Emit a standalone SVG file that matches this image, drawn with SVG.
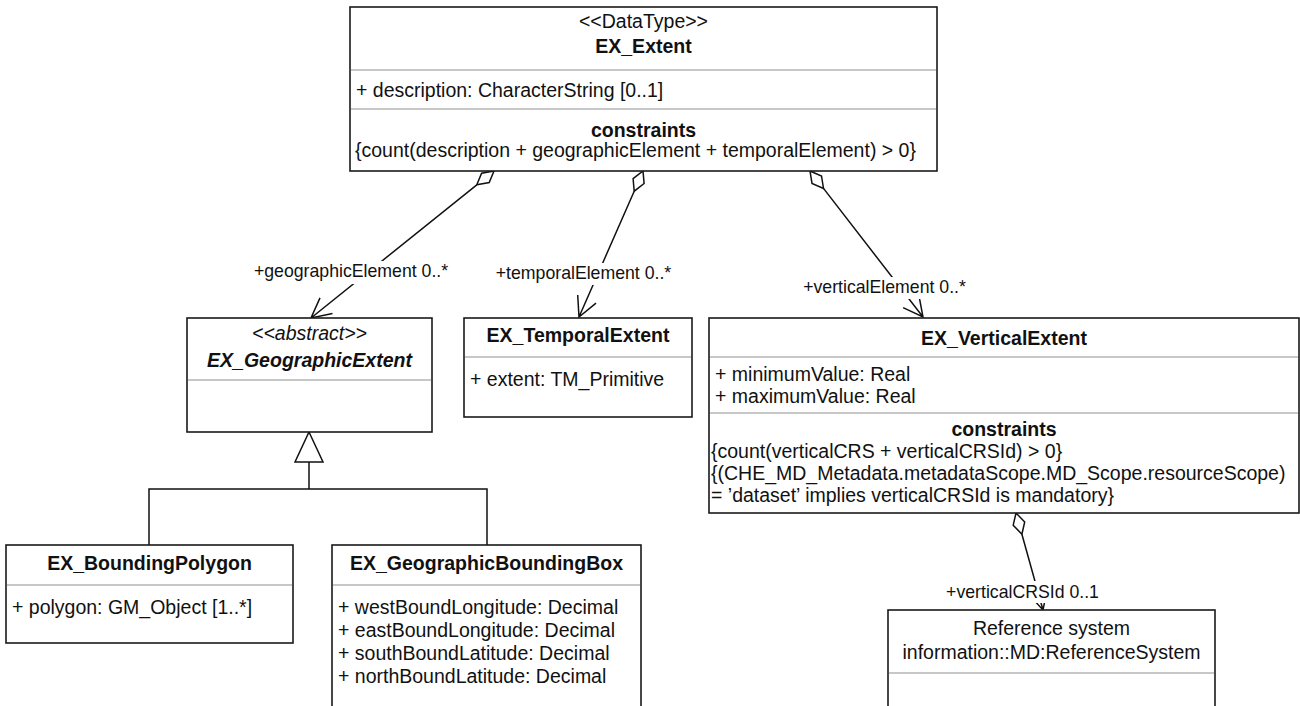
<svg xmlns="http://www.w3.org/2000/svg" width="1300" height="706" viewBox="0 0 1300 706">
<style>
.box{fill:#fff;stroke:#1a1a1a;stroke-width:1.6}
.div{stroke:#b4b4b4;stroke-width:1.6}
.t{font-family:"Liberation Sans",Arial,sans-serif;font-size:19.5px;fill:#111}
.c{text-anchor:middle}
.b{font-weight:bold}
.i{font-style:italic}
.ln{fill:none;stroke:#111;stroke-width:1.5}
.dia{fill:#fff;stroke:#111;stroke-width:1.5}
.lbl{font-family:"Liberation Sans",Arial,sans-serif;font-size:17.7px;fill:#111;text-anchor:middle}
.lbg{fill:#fff}
</style>
<g id="connectors">
  <path class="ln" d="M476.8,184.8 L311,318 M332.5,313.5 L311,318 L320,297.9"/>
  <polygon class="dia" points="494,171 489.2,182.6 476.8,184.8 481.6,173.2"/>
  <path class="ln" d="M634.2,191.2 L579,317 M596,303.1 L579,317 L577.7,295"/>
  <polygon class="dia" points="643,171 644.1,183.5 634.2,191.2 633.1,178.7"/>
  <path class="ln" d="M823.5,188.4 L923,317 M918.9,295.4 L923,317 L903.1,307.6"/>
  <polygon class="dia" points="810,171 821.5,176 823.5,188.4 812,183.4"/>
  <path class="ln" d="M1021.9,534.2 L1043,610 M1047.4,588.4 L1043,610 L1028.1,593.8"/>
  <polygon class="dia" points="1016,513 1024.7,522 1021.9,534.2 1013.2,525.2"/>
  <polygon class="dia" points="309,432 323,462 295,462"/>
  <path class="ln" d="M309,462 V489 M149,545 V489 H487 V545"/>
  <rect class="lbg" x="252" y="261" width="198" height="23"/>
  <text class="lbl" x="351" y="277">+geographicElement 0..*</text>
  <rect class="lbg" x="494" y="263" width="179" height="22"/>
  <text class="lbl" x="583.5" y="279">+temporalElement 0..*</text>
  <rect class="lbg" x="801" y="277" width="167" height="22"/>
  <text class="lbl" x="884.5" y="293">+verticalElement 0..*</text>
  <rect class="lbg" x="945" y="581" width="155" height="22"/>
  <text class="lbl" x="1022.5" y="598">+verticalCRSId 0..1</text>
</g>
<g id="EX_Extent">
  <rect class="box" x="350" y="7" width="587" height="164"/>
  <text class="t c" x="643.5" y="28">&lt;&lt;DataType&gt;&gt;</text>
  <text class="t c b" x="643.5" y="53">EX_Extent</text>
  <line class="div" x1="351" y1="70" x2="936" y2="70"/>
  <text class="t" x="356" y="97">+ description: CharacterString [0..1]</text>
  <line class="div" x1="351" y1="109" x2="936" y2="109"/>
  <text class="t c b" x="643.5" y="137">constraints</text>
  <text class="t" x="355" y="157">{count(description + geographicElement + temporalElement) &gt; 0}</text>
</g>
<g id="EX_GeographicExtent">
  <rect class="box" x="187" y="318" width="245" height="114"/>
  <text class="t c i" x="309.5" y="340">&lt;&lt;abstract&gt;&gt;</text>
  <text class="t c b i" x="309.5" y="367">EX_GeographicExtent</text>
  <line class="div" x1="188" y1="380" x2="431" y2="380"/>
</g>
<g id="EX_TemporalExtent">
  <rect class="box" x="464" y="318" width="228" height="99"/>
  <text class="t c b" x="578" y="342">EX_TemporalExtent</text>
  <line class="div" x1="465" y1="357" x2="691" y2="357"/>
  <text class="t" x="470" y="386">+ extent: TM_Primitive</text>
</g>
<g id="EX_VerticalExtent">
  <rect class="box" x="709" y="318" width="590" height="195"/>
  <text class="t c b" x="1004" y="345">EX_VerticalExtent</text>
  <line class="div" x1="710" y1="357" x2="1298" y2="357"/>
  <text class="t" x="715" y="381">+ minimumValue: Real</text>
  <text class="t" x="715" y="403.2">+ maximumValue: Real</text>
  <line class="div" x1="710" y1="413" x2="1298" y2="413"/>
  <text class="t c b" x="1004" y="435.5">constraints</text>
  <text class="t" x="711" y="457.7">{count(verticalCRS + verticalCRSId) &gt; 0}</text>
  <text class="t" x="711" y="479.9">{(CHE_MD_Metadata.metadataScope.MD_Scope.resourceScope)</text>
  <text class="t" x="711" y="502.1">= ’dataset’ implies verticalCRSId is mandatory}</text>
</g>
<g id="EX_BoundingPolygon">
  <rect class="box" x="6" y="545" width="287" height="98"/>
  <text class="t c b" x="149.5" y="570">EX_BoundingPolygon</text>
  <line class="div" x1="7" y1="585" x2="292" y2="585"/>
  <text class="t" x="12" y="614">+ polygon: GM_Object [1..*]</text>
</g>
<g id="EX_GeographicBoundingBox">
  <rect class="box" x="332" y="545" width="309" height="180"/>
  <text class="t c b" x="486.5" y="570">EX_GeographicBoundingBox</text>
  <line class="div" x1="333" y1="585" x2="640" y2="585"/>
  <text class="t" x="338" y="614">+ westBoundLongitude: Decimal</text>
  <text class="t" x="338" y="637">+ eastBoundLongitude: Decimal</text>
  <text class="t" x="338" y="660">+ southBoundLatitude: Decimal</text>
  <text class="t" x="338" y="683">+ northBoundLatitude: Decimal</text>
</g>
<g id="ReferenceSystem">
  <rect class="box" x="888" y="610" width="327" height="120"/>
  <text class="t c" x="1051.5" y="635">Reference system</text>
  <text class="t c" x="1051.5" y="659">information::MD:ReferenceSystem</text>
  <line class="div" x1="889" y1="673" x2="1214" y2="673"/>
</g>
</svg>
